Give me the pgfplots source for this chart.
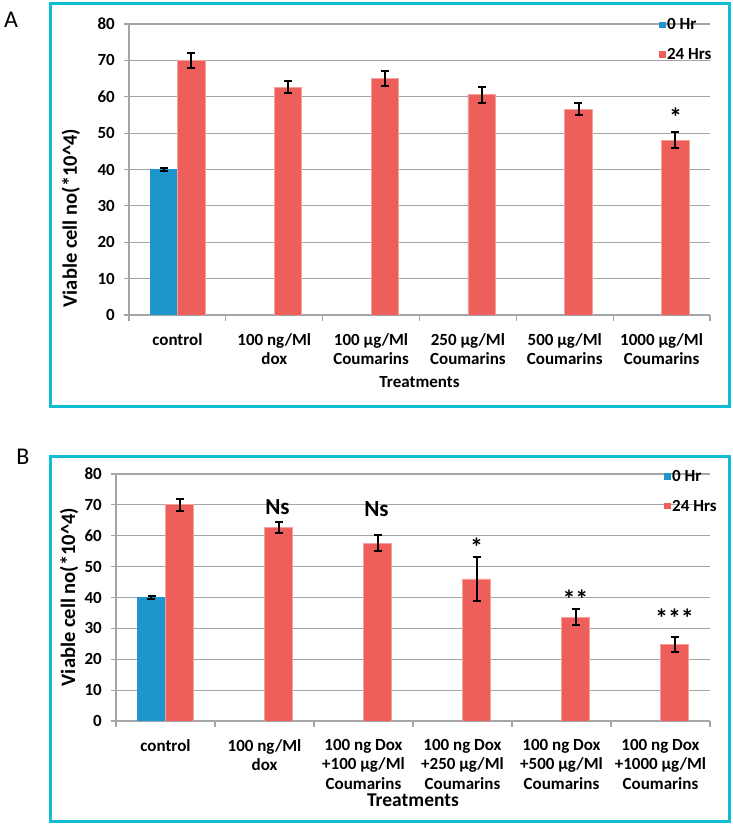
\documentclass[border=0pt]{standalone}
\usepackage{fontspec}
\setmainfont{Carlito}
\usepackage{pgfplots}
\pgfplotsset{compat=1.18}

\definecolor{hrzero}{RGB}{30,150,205}
\definecolor{hrday}{RGB}{238,94,90}
\definecolor{hrdayedge}{RGB}{246,160,156}
\definecolor{framec}{RGB}{17,189,210}
\definecolor{gridc}{RGB}{165,165,165}

\newcommand{\tickfont}{\fontsize{17}{19.5}\selectfont\bfseries}
\newcommand{\astfont}{\fontsize{26}{26}\selectfont\bfseries}

\pgfplotsset{
  sq legend/.style={legend image code/.code={\path[##1,draw=none] (0pt,-3.25pt) rectangle (6.5pt,3.25pt);}},
  errs/.style={error bars/.cd, y dir=both, y explicit,
    error bar style={line width=2pt, draw=black},
    error mark options={rotate=90, line width=2pt, mark size=4pt, draw=black}},
  panel/.style={
    anchor=south west, scale only axis,
    ybar=0pt,
    xmin=-0.5, xmax=5.5, ymin=0, ymax=80, enlargelimits=false,
    xtick={0,...,5}, ytick={0,10,...,80},
    yticklabels={0,10,20,30,40,50,60,70,80},
    axis x line=bottom, axis y line=left,
    axis line style={-, draw=gridc, line width=1.2pt},
    ymajorgrids, grid style={draw=gridc, line width=1.2pt},
    tick align=outside, major tick length=5pt,
    major x tick style={draw=none},
    major y tick style={draw=gridc, line width=1.2pt},
    extra x ticks={-0.5,0.5,...,5.5}, extra x tick labels={},
    extra x tick style={grid=none, major tick length=6pt,
      major x tick style={draw=gridc, line width=1.2pt}},
    ticklabel style={font=\tickfont},
    xticklabel style={align=center, anchor=north, inner sep=0pt, yshift=-13pt},
    yticklabel style={anchor=east, inner sep=0pt, xshift=-9pt},
    ylabel={Viable cell no(*10\^{}4)},
    ylabel style={font=\fontsize{20.5}{22}\selectfont\bfseries, anchor=center, rotate=0},
    legend style={draw=none, fill=none, anchor=north west, font=\tickfont,
      row sep=14pt, inner sep=0pt, nodes={inner sep=1.5pt}},
    legend cell align=left,
  },
}

\begin{document}
\begin{tikzpicture}
\path (0pt,0pt) rectangle (733pt,825pt);
\draw[framec, line width=3pt] (50.5pt,821.5pt) rectangle (729.5pt,418pt);
\draw[framec, line width=3pt] (50.5pt,368pt) rectangle (729.5pt,3pt);
\node[font=\fontsize{24}{24}\selectfont] at (11pt,805pt) {A};
\node[font=\fontsize{24}{24}\selectfont] at (23pt,368pt) {B};

% Panel A
\begin{axis}[panel, at={(129pt,510pt)}, width=581pt, height=291pt, bar width=27.5pt,
  xticklabels={control, {100 ng/Ml\\dox}, {100 µg/Ml\\Coumarins},
    {250 µg/Ml\\Coumarins}, {500 µg/Ml\\Coumarins}, {1000 µg/Ml\\Coumarins}},
  xlabel={Treatments},
  xlabel style={font=\tickfont, anchor=center, at={(axis description cs:0.5,-0.23)}},
  ylabel style={at={(axis description cs:-0.1,0.333)}},
  legend style={at={(axis description cs:0.912,1.025)}},
]
\addplot[fill=hrzero, draw=none, sq legend, errs] coordinates {(0,40) +- (0,0.5)};
\addplot[fill=hrday, draw=hrdayedge, line width=0.8pt, sq legend, errs] coordinates {
  (0,70) +- (0,2.1)
  (1,62.6) +- (0,1.7)
  (2,65.0) +- (0,2.1)
  (3,60.6) +- (0,2.2)
  (4,56.6) +- (0,1.6)
  (5,48.0) +- (0,2.2)
};
\legend{0 Hr, 24 Hrs}
\node[font=\astfont, xshift=14pt] at (axis cs:5,54.3) {*};
\end{axis}

% Panel B
\begin{axis}[panel, at={(116pt,104pt)}, width=594pt, height=247pt, bar width=28pt,
  xticklabels={control, {100 ng/Ml\\dox}, {100 ng Dox\\+100 µg/Ml\\Coumarins},
    {100 ng Dox\\+250 µg/Ml\\Coumarins}, {100 ng Dox\\+500 µg/Ml\\Coumarins},
    {100 ng Dox\\+1000 µg/Ml\\Coumarins}},
  xlabel={Treatments},
  xlabel style={font=\fontsize{19.5}{21}\selectfont\bfseries, anchor=center, at={(axis description cs:0.5,-0.32)}},
  ylabel style={at={(axis description cs:-0.079,0.502)}},
  legend style={at={(axis description cs:0.9226,1.022)}},
]
\addplot[fill=hrzero, draw=none, sq legend, errs] coordinates {(0,40) +- (0,0.5)};
\addplot[fill=hrday, draw=hrdayedge, line width=0.8pt, sq legend, errs] coordinates {
  (0,70) +- (0,2.0)
  (1,62.6) +- (0,1.8)
  (2,57.6) +- (0,2.7)
  (3,46.0) +- (0,7.0)
  (4,33.6) +- (0,2.6)
  (5,24.8) +- (0,2.5)
};
\legend{0 Hr, 24 Hrs}
\node[font=\fontsize{23}{23}\selectfont\bfseries, xshift=13pt] at (axis cs:1,69.4) {Ns};
\node[font=\fontsize{23}{23}\selectfont\bfseries, xshift=13pt] at (axis cs:2,68.7) {Ns};
\node[font=\astfont, xshift=14pt, yshift=-2pt] at (axis cs:3,57) {*};
\node[font=\astfont, xshift=14pt, yshift=-2pt] at (axis cs:4,40.2) {**};
\node[font=\astfont, xshift=14pt, yshift=-2pt] at (axis cs:5,34) {***};
\end{axis}
\end{tikzpicture}
\end{document}
